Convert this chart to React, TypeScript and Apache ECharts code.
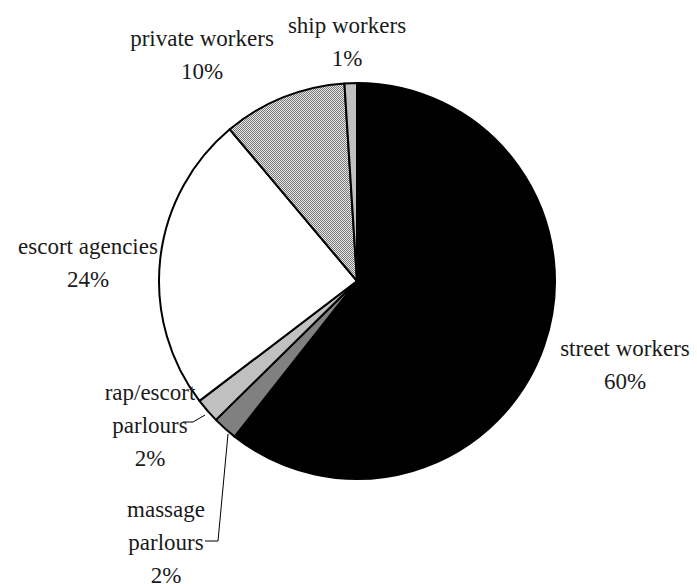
import React, { useEffect, useRef } from "react";
import * as echarts from "echarts";

const categories = [
  "street workers",
  "massage\nparlours",
  "rap/escort\nparlours",
  "escort agencies",
  "private workers",
  "ship workers",
];
const values = [60, 2, 2, 24, 10, 1];

// label placement (centre of text block) in px
const labelPos: [number, number][] = [
  [625, 365],
  [166, 542],
  [150, 425],
  [88, 263],
  [202, 55],
  [347, 42],
];
const leaderLines: (number[][] | null)[] = [
  null,
  [[228, 434], [218, 541], [205, 541]],
  [[205, 415], [193, 422], [183, 422]],
  null,
  null,
  null,
];

const FONT = "Liberation Serif";

export default function App() {
  const ref = useRef<HTMLDivElement>(null);
  useEffect(() => {
    if (!ref.current) return;
    const chart = echarts.init(ref.current, undefined, { renderer: "svg" });

    const cv = document.createElement("canvas");
    cv.width = 2;
    cv.height = 2;
    const ctx = cv.getContext("2d")!;
    ctx.fillStyle = "#e6e6e6";
    ctx.fillRect(0, 0, 2, 2);
    ctx.fillStyle = "#7a7a7a";
    ctx.fillRect(0, 0, 1, 1);
    ctx.fillRect(1, 1, 1, 1);
    const pattern: any = { image: cv, repeat: "repeat", imageWidth: 2, imageHeight: 2 };

    const colors: any[] = ["#000000", "#808080", "#c0c0c0", "#ffffff", pattern, "#c0c0c0"];

    chart.setOption({
      animation: false,
      backgroundColor: "#ffffff",
      textStyle: { fontFamily: FONT },
      series: [
        {
          type: "pie",
          center: [357, 281],
          radius: 198,
          startAngle: 90,
          clockwise: true,
          avoidLabelOverlap: false,
          itemStyle: { borderColor: "#000", borderWidth: 2 },
          label: {
            show: true,
            formatter: (p: any) => p.name + "\n" + p.value + "%",
            fontFamily: FONT,
            fontSize: 23,
            lineHeight: 33,
            color: "#1a1a1a",
            align: "center",
          },
          labelLine: { show: true, lineStyle: { color: "#000", width: 1 } },
          labelLayout: (p: any) => {
            const i = p.dataIndex;
            const o: any = {
              x: labelPos[i][0],
              y: labelPos[i][1],
              align: "center",
              verticalAlign: "middle",
            };
            if (leaderLines[i]) o.labelLinePoints = leaderLines[i];
            return o;
          },
          data: categories.map((c, i) => ({
            name: c,
            value: values[i],
            itemStyle: { color: colors[i] },
            labelLine: { show: !!leaderLines[i] },
          })),
        },
      ],
    });
    return () => chart.dispose();
  }, []);
  return (
    <div
      ref={ref}
      style={{ position: "fixed", left: 0, top: 0, width: 697, height: 584 }}
    />
  );
}
